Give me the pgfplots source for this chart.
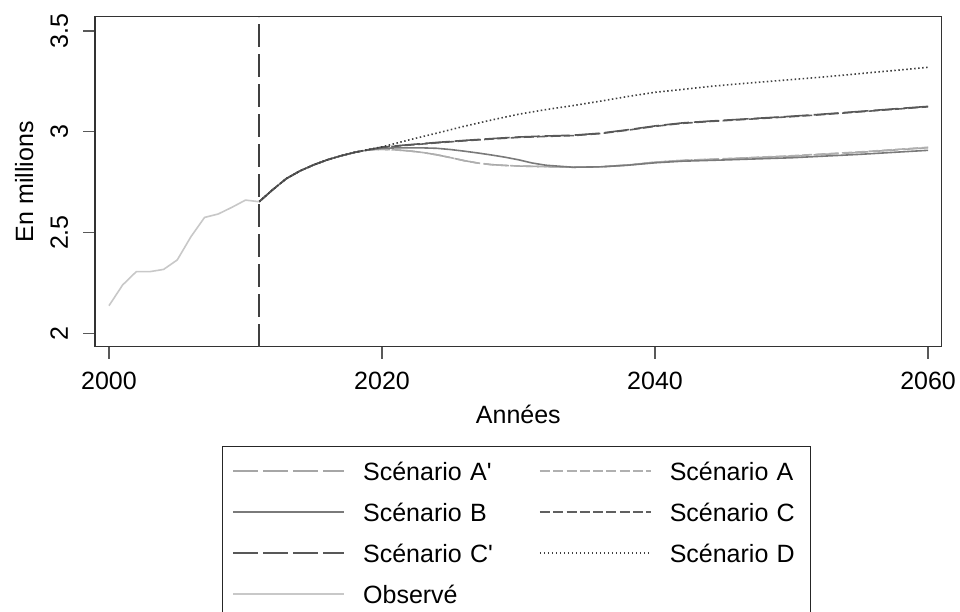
\documentclass[border=0pt]{standalone}
\usepackage{fontspec}
\setmainfont{Liberation Sans}
\usepackage{pgfplots}
\pgfplotsset{compat=1.18}
\definecolor{cobs}{HTML}{C8C8C8}
\definecolor{cAp}{HTML}{A6A6A6}
\definecolor{cA}{HTML}{B0B0B0}
\definecolor{cB}{HTML}{7A7A7A}
\definecolor{cC}{HTML}{606060}
\definecolor{cCp}{HTML}{585858}
\definecolor{cD}{HTML}{404040}
\newcommand{\bigfont}{\fontsize{25bp}{30bp}\selectfont}
\begin{document}
\begin{tikzpicture}
\begin{axis}[
  at={(95bp,-346.7bp)}, anchor=south west,
  scale only axis, width=846.7bp, height=330bp,
  xmin=1998.975, xmax=2061.0, ymin=1.9335, ymax=3.571,
  xtick={2000,2020,2040,2060}, ytick={2,2.5,3,3.5},
  xtick pos=left, ytick pos=left,
  tick align=outside, major tick length=12bp,
  tick style={line width=1.2bp, color=black!65},
  axis line style={line width=1.2bp, color=black!80},
  /pgf/number format/assume math mode=true,
  /pgf/number format/1000 sep={},
  ticklabel style={font=\bigfont},
  xticklabel style={anchor=north, inner sep=0pt, text height=18bp, text depth=0pt},
  yticklabel style={rotate=90, anchor=south, inner sep=0pt, text height=18bp, text depth=0pt},
  xticklabel shift=13bp, yticklabel shift=15bp,
  xlabel={Années}, ylabel={En millions},
  label style={font=\bigfont},
  xlabel style={at={(axis description cs:0.5,-0.232)}, anchor=base, inner sep=0pt},
  ylabel style={at={(axis description cs:-0.0732,0.5)}, anchor=base, inner sep=0pt},
  legend columns=2,
  legend image code/.code={\draw[#1] (0bp,0bp) -- (111bp,0bp);},
  legend style={at={(axis description cs:0.15,-0.3)}, anchor=north west,
    draw=black!85, line width=1.1bp, fill=white,
    inner xsep=10bp, inner ysep=16bp,
    font=\bigfont,
    column sep=18bp, row sep=23bp,
    nodes={inner sep=0pt, text height=18bp, text depth=0pt, text width=131bp, align=left, anchor=west},
    /tikz/every even column/.append style={column sep=45bp}},
  every axis plot/.append style={line width=1.6bp},
]
% Scenario A'
\addplot[cAp, dash pattern=on 25bp off 5bp] coordinates {
(2011,2.653)(2012,2.713)(2013,2.768)(2014,2.806)(2015,2.836)(2016,2.861)(2017,2.881)(2018,2.898)(2019,2.910)
(2020,2.913)(2021,2.910)(2022,2.905)(2023,2.897)(2024,2.886)(2025,2.872)(2026,2.857)(2027,2.845)(2028,2.837)
(2029,2.833)(2030,2.830)(2032,2.827)(2034,2.824)(2036,2.826)(2038,2.835)(2040,2.849)(2042,2.858)(2045,2.865)
(2050,2.879)(2055,2.898)(2060,2.921)};
\addlegendentry{Scénario A\textquotesingle}
% Scenario A
\addplot[cA, dash pattern=on 10bp off 3.3bp] coordinates {
(2011,2.653)(2012,2.713)(2013,2.768)(2014,2.806)(2015,2.836)(2016,2.861)(2017,2.881)(2018,2.898)(2019,2.910)
(2020,2.913)(2021,2.910)(2022,2.905)(2023,2.897)(2024,2.886)(2025,2.872)(2026,2.857)(2027,2.845)(2028,2.837)
(2029,2.833)(2030,2.830)(2032,2.827)(2034,2.824)(2036,2.826)(2038,2.835)(2040,2.849)(2042,2.858)(2045,2.866)
(2050,2.881)(2055,2.900)(2060,2.923)};
\addlegendentry{Scénario A}
% Scenario B
\addplot[cB, solid] coordinates {
(2011,2.653)(2012,2.713)(2013,2.768)(2014,2.806)(2015,2.836)(2016,2.861)(2017,2.881)(2018,2.898)(2019,2.910)
(2020,2.918)(2021,2.920)(2022,2.920)(2023,2.920)(2024,2.918)(2025,2.912)(2026,2.904)(2027,2.895)(2028,2.885)
(2029,2.874)(2030,2.861)(2031,2.845)(2032,2.834)(2034,2.824)(2036,2.826)(2038,2.834)(2040,2.846)(2042,2.854)
(2045,2.860)(2050,2.871)(2055,2.888)(2060,2.908)};
\addlegendentry{Scénario B}
% Scenario C
\addplot[cC, dash pattern=on 10bp off 3.3bp] coordinates {
(2011,2.653)(2012,2.713)(2013,2.768)(2014,2.806)(2015,2.836)(2016,2.861)(2017,2.881)(2018,2.898)(2019,2.911)
(2020,2.923)(2022,2.934)(2024,2.945)(2026,2.955)(2028,2.964)(2030,2.972)(2032,2.977)(2034,2.981)(2036,2.991)
(2038,3.008)(2040,3.027)(2042,3.042)(2044,3.051)(2046,3.059)(2048,3.067)(2050,3.075)(2052,3.084)(2054,3.094)
(2056,3.104)(2058,3.114)(2060,3.124)};
\addlegendentry{Scénario C}
% Scenario C'
\addplot[cCp, dash pattern=on 25bp off 5bp] coordinates {
(2011,2.653)(2012,2.713)(2013,2.768)(2014,2.806)(2015,2.836)(2016,2.861)(2017,2.881)(2018,2.898)(2019,2.911)
(2020,2.924)(2022,2.936)(2024,2.947)(2026,2.957)(2028,2.966)(2030,2.974)(2032,2.979)(2034,2.983)(2036,2.993)
(2038,3.010)(2040,3.029)(2042,3.044)(2044,3.053)(2046,3.061)(2048,3.069)(2050,3.077)(2052,3.086)(2054,3.096)
(2056,3.106)(2058,3.116)(2060,3.126)};
\addlegendentry{Scénario C\textquotesingle}
% Scenario D
\addplot[cD, dash pattern=on 1.5bp off 2.5bp] coordinates {
(2011,2.653)(2012,2.713)(2013,2.768)(2014,2.806)(2015,2.836)(2016,2.861)(2017,2.881)(2018,2.898)(2019,2.912)
(2020,2.925)(2022,2.960)(2024,2.993)(2026,3.027)(2028,3.058)(2030,3.087)(2032,3.110)(2034,3.130)(2036,3.152)
(2038,3.175)(2040,3.196)(2042,3.210)(2044,3.225)(2046,3.237)(2048,3.248)(2050,3.259)(2052,3.270)(2054,3.282)
(2056,3.295)(2058,3.307)(2060,3.320)};
\addlegendentry{Scénario D}
% Observed
\addplot[cobs, solid] coordinates {
(2000,2.137)(2001,2.240)(2002,2.306)(2003,2.306)(2004,2.317)(2005,2.364)(2006,2.479)(2007,2.575)
(2008,2.592)(2009,2.625)(2010,2.661)(2011,2.653)};
\addlegendentry{Observé}
% vertical separator
\addplot[forget plot, color=black!75, line width=2bp, dash pattern=on 23bp off 7bp] coordinates {(2011,1.9335)(2011,3.571)};
\end{axis}
\pgfresetboundingbox
\path[use as bounding box] (0,0) rectangle (960bp,-612bp);
\end{tikzpicture}
\end{document}
